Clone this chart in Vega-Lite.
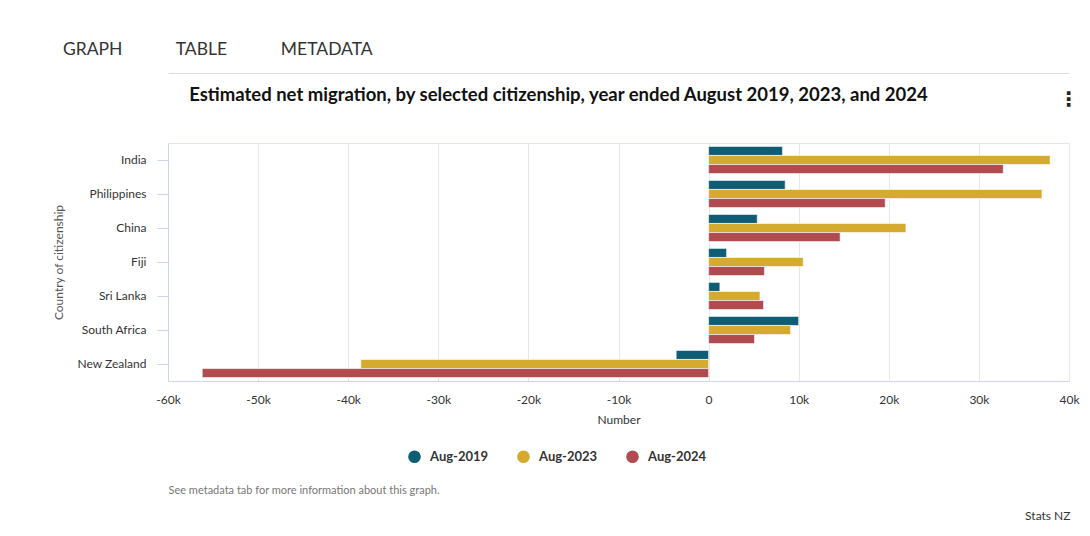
{
  "$schema": "https://vega.github.io/schema/vega-lite/v6.json",
  "width": 901,
  "height": 238,
  "autosize": "none",
  "padding": {"left": 168, "top": 143, "right": 21, "bottom": 155},
  "background": "white",
  "config": {
    "font": "Lato",
    "view": {"stroke": "#e1e6ee", "strokeWidth": 1}
  },
  "title": {
    "text": "GRAPH\u00a0\u00a0\u00a0\u00a0\u00a0\u00a0\u00a0\u00a0\u00a0\u00a0\u00a0\u00a0TABLE\u00a0\u00a0\u00a0\u00a0\u00a0\u00a0\u00a0\u00a0\u00a0\u00a0\u00a0\u00a0METADATA",
    "orient": "top",
    "anchor": "start",
    "frame": "group",
    "dx": -105,
    "offset": 15,
    "fontSize": 17.5,
    "fontWeight": "normal",
    "color": "#333333"
  },
  "data": {
    "values": [
      {"Country": "India", "Year": "Aug-2019", "value": 8200},
      {"Country": "India", "Year": "Aug-2023", "value": 37900},
      {"Country": "India", "Year": "Aug-2024", "value": 32700},
      {"Country": "Philippines", "Year": "Aug-2019", "value": 8500},
      {"Country": "Philippines", "Year": "Aug-2023", "value": 37000},
      {"Country": "Philippines", "Year": "Aug-2024", "value": 19600},
      {"Country": "China", "Year": "Aug-2019", "value": 5400},
      {"Country": "China", "Year": "Aug-2023", "value": 21900},
      {"Country": "China", "Year": "Aug-2024", "value": 14600},
      {"Country": "Fiji", "Year": "Aug-2019", "value": 2000},
      {"Country": "Fiji", "Year": "Aug-2023", "value": 10500},
      {"Country": "Fiji", "Year": "Aug-2024", "value": 6200},
      {"Country": "Sri Lanka", "Year": "Aug-2019", "value": 1250},
      {"Country": "Sri Lanka", "Year": "Aug-2023", "value": 5700},
      {"Country": "Sri Lanka", "Year": "Aug-2024", "value": 6100},
      {"Country": "South Africa", "Year": "Aug-2019", "value": 10000},
      {"Country": "South Africa", "Year": "Aug-2023", "value": 9100},
      {"Country": "South Africa", "Year": "Aug-2024", "value": 5100},
      {"Country": "New Zealand", "Year": "Aug-2019", "value": -3600},
      {"Country": "New Zealand", "Year": "Aug-2023", "value": -38600},
      {"Country": "New Zealand", "Year": "Aug-2024", "value": -56200}
    ]
  },
  "layer": [
    {
      "mark": {"type": "bar", "stroke": "#ffffff", "strokeWidth": 0.6},
      "encoding": {
        "x": {
          "field": "value",
          "type": "quantitative",
          "scale": {"domain": [-60000, 40000], "nice": false, "zero": false},
          "axis": {
            "orient": "bottom",
            "values": [-60000, -50000, -40000, -30000, -20000, -10000, 0, 10000, 20000, 30000, 40000],
            "labelExpr": "datum.value == 0 ? '0' : (datum.value / 1000) + 'k'",
            "grid": true,
            "gridColor": "#e6e6e6",
            "ticks": false,
            "tickSize": 0,
            "domain": true,
            "domainColor": "#ccd6eb",
            "labelPadding": 13,
            "labelFontSize": 12,
            "labelColor": "#333333",
            "labelFlush": false,
            "labelOverlap": false,
            "title": "Number",
            "titleY": 38,
            "titleBaseline": "middle",
            "titleFontSize": 12,
            "titleFontWeight": "normal",
            "titleColor": "#333333"
          }
        },
        "y": {
          "field": "Country",
          "type": "nominal",
          "sort": ["India", "Philippines", "China", "Fiji", "Sri Lanka", "South Africa", "New Zealand"],
          "scale": {"paddingInner": 0.2, "paddingOuter": 0.1},
          "axis": {
            "orient": "left",
            "title": "Country of citizenship",
            "titleX": -110,
            "titleY": 119,
            "titleAngle": 270,
            "titleAlign": "center",
            "titleBaseline": "middle",
            "titleFontSize": 12,
            "titleFontWeight": "normal",
            "titleColor": "#555555",
            "labelFontSize": 12,
            "labelColor": "#333333",
            "labelPadding": 11,
            "ticks": true,
            "tickSize": 11,
            "tickColor": "#ccd6eb",
            "domain": true,
            "domainColor": "#ccd6eb",
            "grid": false
          }
        },
        "yOffset": {
          "field": "Year",
          "type": "nominal",
          "sort": ["Aug-2019", "Aug-2023", "Aug-2024"]
        },
        "color": {
          "field": "Year",
          "type": "nominal",
          "scale": {
            "domain": ["Aug-2019", "Aug-2023", "Aug-2024"],
            "range": ["#0f5c75", "#d4aa2f", "#b04c4f"]
          },
          "legend": {
            "orient": "none",
            "legendX": 240,
            "legendY": 307,
            "direction": "horizontal",
            "title": null,
            "symbolType": "circle",
            "symbolSize": 160,
            "symbolStrokeWidth": 0,
            "labelFontSize": 13,
            "labelFontWeight": "bold",
            "labelColor": "#333333",
            "labelOffset": 9,
            "columnPadding": 28
          }
        }
      }
    },
    {
      "mark": {"type": "point", "opacity": 0},
      "encoding": {
        "x": {
          "field": "value",
          "type": "quantitative",
          "axis": {
            "orient": "top",
            "offset": 70,
            "domain": true,
            "domainColor": "#dddddd",
            "ticks": false,
            "tickSize": 0,
            "grid": false,
            "values": [-60000],
            "labelExpr": "'See metadata tab for more information about this graph.'",
            "labelAlign": "left",
            "labelBaseline": "middle",
            "labelPadding": -417,
            "labelFontSize": 11,
            "labelColor": "#777777",
            "labelFlush": false,
            "labelOverlap": false,
            "labelBound": false,
            "labelLimit": 0,
            "title": "Estimated net migration, by selected citizenship, year ended August 2019, 2023, and 2024",
            "titleX": 390,
            "titleY": 21,
            "titleAlign": "center",
            "titleBaseline": "middle",
            "titleFontSize": 18.5,
            "titleFontWeight": "bold",
            "titleColor": "#111111"
          }
        },
        "y": {
          "field": "Country",
          "type": "nominal",
          "sort": ["India", "Philippines", "China", "Fiji", "Sri Lanka", "South Africa", "New Zealand"],
          "axis": {
            "orient": "right",
            "domain": false,
            "ticks": false,
            "tickSize": 0,
            "grid": false,
            "labelExpr": "datum.value == 'India' ? '⋮' : ''",
            "labelAlign": "center",
            "labelBaseline": "middle",
            "labelPadding": -1,
            "labelOffset": -60,
            "labelFont": "DejaVu Sans",
            "labelFontSize": 20,
            "labelFontWeight": "bold",
            "labelColor": "#222222",
            "title": "Stats NZ",
            "titleAngle": 0,
            "titleAlign": "right",
            "titleBaseline": "middle",
            "titleX": 1,
            "titleY": 372,
            "titleFontSize": 12,
            "titleFontWeight": "normal",
            "titleColor": "#333333"
          }
        }
      }
    }
  ],
  "resolve": {"axis": {"x": "independent", "y": "independent"}}
}
